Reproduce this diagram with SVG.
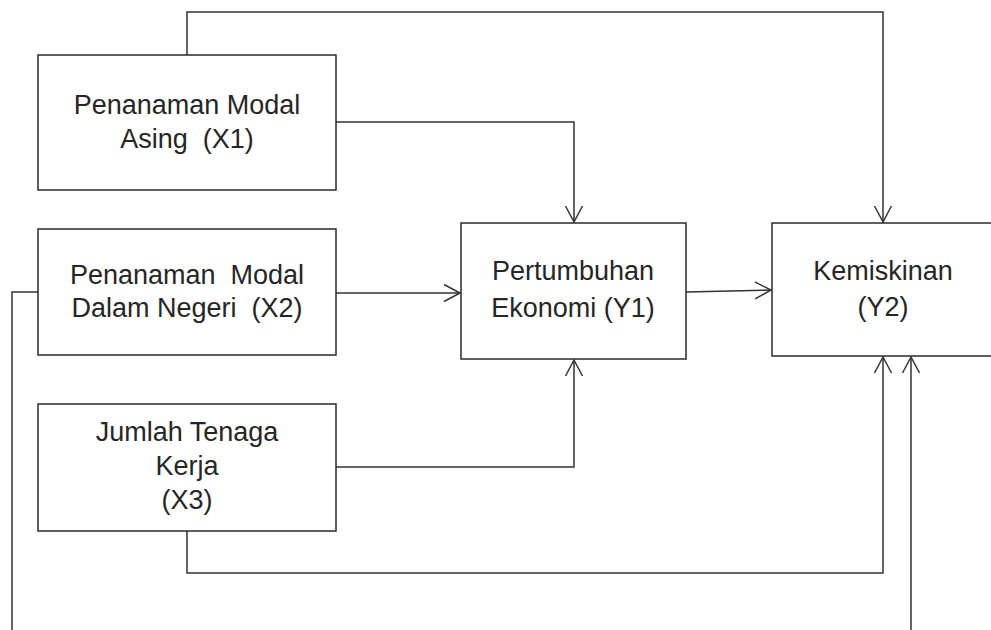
<svg xmlns="http://www.w3.org/2000/svg" width="991" height="630" viewBox="0 0 991 630">
<defs>
<marker id="arr" markerUnits="userSpaceOnUse" markerWidth="24" markerHeight="24" viewBox="-20 -12 24 24" refX="0" refY="0" orient="auto">
<path d="M -16 -8.5 L 0 0 L -16 8.5" fill="none" stroke="#333" stroke-width="1.5"/>
</marker>
</defs>
<style>
.box{fill:#fff;stroke:#2a2a2a;stroke-width:1.5}
.t{font-family:"Liberation Sans",Arial,sans-serif;font-size:27px;fill:#262626;text-anchor:middle}
.c{fill:none;stroke:#333;stroke-width:1.5}
</style>
<rect width="991" height="630" fill="#fff"/>
<g id="connectors">
<path class="c" d="M187 55 V12 H883 V222" marker-end="url(#arr)"/>
<path class="c" d="M336 122 H574 V222" marker-end="url(#arr)"/>
<path class="c" d="M336 293 H460" marker-end="url(#arr)"/>
<path class="c" d="M336 467 H574 V360" marker-end="url(#arr)"/>
<path class="c" d="M686 292 L771 290" marker-end="url(#arr)"/>
<path class="c" d="M187 531 V573 H883 V357" marker-end="url(#arr)"/>
<path class="c" d="M911 630 V357" marker-end="url(#arr)"/>
<path class="c" d="M38 292 H12 V630"/>
</g>
<g id="x1">
<rect class="box" x="38" y="55" width="298" height="135"/>
<text class="t" x="187" y="114">Penanaman Modal</text>
<text class="t" x="187" y="148" xml:space="preserve">Asing  (X1)</text>
</g>
<g id="x2">
<rect class="box" x="38" y="229" width="298" height="126"/>
<text class="t" x="187" y="284" xml:space="preserve">Penanaman  Modal</text>
<text class="t" x="187" y="317" xml:space="preserve">Dalam Negeri  (X2)</text>
</g>
<g id="x3">
<rect class="box" x="38" y="404" width="298" height="127"/>
<text class="t" x="187" y="441">Jumlah Tenaga</text>
<text class="t" x="187" y="475">Kerja</text>
<text class="t" x="187" y="509">(X3)</text>
</g>
<g id="y1">
<rect class="box" x="461" y="223" width="225" height="136"/>
<text class="t" x="573" y="280">Pertumbuhan</text>
<text class="t" x="573" y="317">Ekonomi (Y1)</text>
</g>
<g id="y2">
<rect class="box" x="772" y="223" width="226" height="133"/>
<text class="t" x="883" y="280">Kemiskinan</text>
<text class="t" x="883" y="316">(Y2)</text>
</g>
</svg>
